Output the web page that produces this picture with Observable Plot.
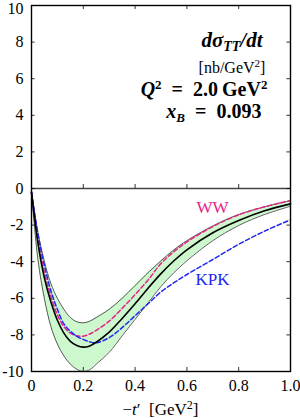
<!DOCTYPE html>
<html><head><meta charset="utf-8">
<script src="https://cdn.jsdelivr.net/npm/d3@7"></script>
<script src="https://cdn.jsdelivr.net/npm/@observablehq/plot@0.6"></script>
<style>body{margin:0;background:#fff}</style>
</head><body><div id="chart"></div>
<script>
// -t' values (GeV^2)
const tValues       = [0, 0.025, 0.05, 0.075, 0.1, 0.125, 0.15, 0.175, 0.2, 0.225, 0.25, 0.3, 0.35, 0.4, 0.45, 0.5, 0.55, 0.6, 0.7, 0.8, 0.9, 1.0];
// central curve (black solid)
const centralValues = [-0.2, -3.0, -4.9, -6.2, -7.2, -7.9, -8.35, -8.58, -8.67, -8.6, -8.4, -7.85, -7.1, -6.3, -5.45, -4.65, -3.95, -3.35, -2.42, -1.75, -1.22, -0.84];
// uncertainty band edges
const bandUpper     = [-0.2, -2.4, -4.0, -5.2, -6.0, -6.6, -7.05, -7.28, -7.34, -7.25, -7.05, -6.6, -6.0, -5.3, -4.6, -3.95, -3.35, -2.85, -2.05, -1.42, -1.0, -0.66];
const bandLower     = [-0.2, -3.9, -6.03, -7.55, -8.5, -9.15, -9.6, -9.88, -10.0, -9.9, -9.6, -8.95, -8.05, -7.15, -6.25, -5.35, -4.6, -3.95, -2.85, -2.02, -1.42, -0.97];
// WW (pink dashed) and KPK (blue dashed)
const wwValues      = [-0.2, -2.8, -4.6, -5.9, -6.9, -7.55, -7.9, -8.05, -8.07, -7.95, -7.75, -7.25, -6.55, -5.8, -5.0, -4.1, -3.45, -2.92, -2.08, -1.44, -1.0, -0.66];
const kpkValues     = [-0.2, -2.5, -4.2, -5.6, -6.6, -7.4, -7.8, -8.08, -8.25, -8.38, -8.43, -8.15, -7.6, -6.95, -6.3, -5.65, -5.15, -4.7, -3.88, -3.05, -2.33, -1.71];

const xTicks = [0, 0.2, 0.4, 0.6, 0.8, 1.0];
const xTickLabels = ["0", "0.2", "0.4", "0.6", "0.8", "1.0"];
const yTicks = [10, 8, 6, 4, 2, 0, -2, -4, -6, -8, -10];
const yTickLabels = ["10", "8", "6", "4", "2", "0", "-2", "-4", "-6", "-8", "-10"];
const seriesLabels = ["WW", "KPK"];

const rows = tValues.map((t, i) => ({t, c: centralValues[i], hi: bandUpper[i], lo: bandLower[i], ww: wwValues[i], kpk: kpkValues[i]}));

const PINK = "#e8218c", BLUE = "#2027f0", FONT = "'Liberation Serif', serif";
const CURVE = "catmull-rom";
const innerX = xTicks.filter(d => d > 0 && d < 1);
const innerY = yTicks.filter(d => d > -10 && d < 10);
const yLabelIdx = yTicks.map((d, i) => i);

const plot = Plot.plot({
  width: 300, height: 418,
  marginLeft: 31, marginRight: 10, marginTop: 5, marginBottom: 47,
  style: {fontFamily: FONT, fontSize: "16px", background: "#fff", color: "#000"},
  x: {domain: [0, 1]},
  y: {domain: [-10, 10], axis: null},
  marks: [
    Plot.areaY(rows, {x: "t", y1: "lo", y2: "hi", fill: "#cdf7cd", curve: CURVE}),
    Plot.lineY(rows, {x: "t", y: "hi", stroke: "#333", strokeWidth: 0.8, curve: CURVE}),
    Plot.lineY(rows, {x: "t", y: "lo", stroke: "#333", strokeWidth: 0.8, curve: CURVE}),
    Plot.lineY(rows, {x: "t", y: "ww", stroke: PINK, strokeWidth: 1.5, strokeDasharray: "4.5,2.5", curve: CURVE}),
    Plot.lineY(rows, {x: "t", y: "kpk", stroke: BLUE, strokeWidth: 1.5, strokeDasharray: "4.5,2.5", curve: CURVE}),
    Plot.lineY(rows, {x: "t", y: "c", stroke: "#000", strokeWidth: 1.6, curve: CURVE}),
    Plot.ruleY([0], {stroke: "#444", strokeWidth: 1.5}),
    // inward ticks
    Plot.ruleY(innerY, {x1: 0, x2: 0.014, stroke: "#000", strokeWidth: 0.8}),
    Plot.ruleY(innerY, {x1: 0.986, x2: 1, stroke: "#000", strokeWidth: 0.8}),
    Plot.ruleX(innerX, {y1: 10, y2: 9.78, stroke: "#000", strokeWidth: 0.8}),
    Plot.ruleX(innerX, {y1: 0, y2: 0.22, stroke: "#000", strokeWidth: 0.8}),
    Plot.ruleX(innerX, {y1: -10, y2: -9.78, stroke: "#000", strokeWidth: 0.8}),
    Plot.frame({stroke: "#000", strokeWidth: 1.4}),
    Plot.axisX({ticks: xTicks, tickFormat: (d, i) => xTickLabels[i], tickSize: 0, tickPadding: 8, fontSize: 16, label: null}),
    Plot.text(yLabelIdx, {x: 0, y: i => yTicks[i], text: i => yTickLabels[i], textAnchor: "end", dx: -8, fontSize: 16, fontFamily: FONT, fill: "#000"}),
    Plot.text([seriesLabels[0]], {x: 0.699, y: -1.05, text: d => d, fill: PINK, fontSize: 17, fontFamily: FONT}),
    Plot.text([seriesLabels[1]], {x: 0.699, y: -5.0, text: d => d, fill: BLUE, fontSize: 17, fontFamily: FONT})
  ]
});
document.getElementById("chart").appendChild(plot);
// nudge the top "10" label down slightly (reference keeps it inside the picture)
d3.select(plot).selectAll("text").filter(function() { return this.textContent === "10"; })
  .attr("transform", function() {
    const t = d3.select(this).attr("transform") || "";
    return t + " translate(0,3)";
  });

// title block and axis title using the plot's scales
const sx = plot.scale("x"), sy = plot.scale("y");
const svg = d3.select(plot);
function addText(xd, yd, size, weight, html, anchor = "middle") {
  svg.append("text")
    .attr("x", sx.apply(xd)).attr("y", sy.apply(yd))
    .attr("text-anchor", anchor)
    .attr("font-family", FONT).attr("font-size", size).attr("font-weight", weight)
    .attr("fill", "#000")
    .html(html);
}
addText(0.776, 7.71, 21, "bold", `<tspan font-style="italic">dσ</tspan><tspan font-style="italic" font-size="14" dy="4">TT</tspan><tspan font-style="italic" dy="-4">/dt</tspan>`);
addText(0.776, 6.3, 16, "normal", `[nb/GeV<tspan font-size="11" dy="-6">2</tspan><tspan dy="6">]</tspan>`);
addText(0.668, 5.03, 20, "bold", `<tspan font-style="italic">Q</tspan><tspan font-size="13" dy="-7">2</tspan><tspan dy="7">\u2002=\u20022.0\u2009GeV</tspan><tspan font-size="13" dy="-7">2</tspan>`);
addText(0.706, 3.8, 20, "bold", `<tspan font-style="italic">x</tspan><tspan font-style="italic" font-size="13" dy="4">B</tspan><tspan dy="-4">\u2002=\u20020.093</tspan>`);
addText(0.5, -12.4, 17, "normal", `−<tspan font-style="italic">t</tspan>′  [GeV<tspan font-size="12" dy="-6">2</tspan><tspan dy="6">]</tspan>`);
</script>
</body></html>
